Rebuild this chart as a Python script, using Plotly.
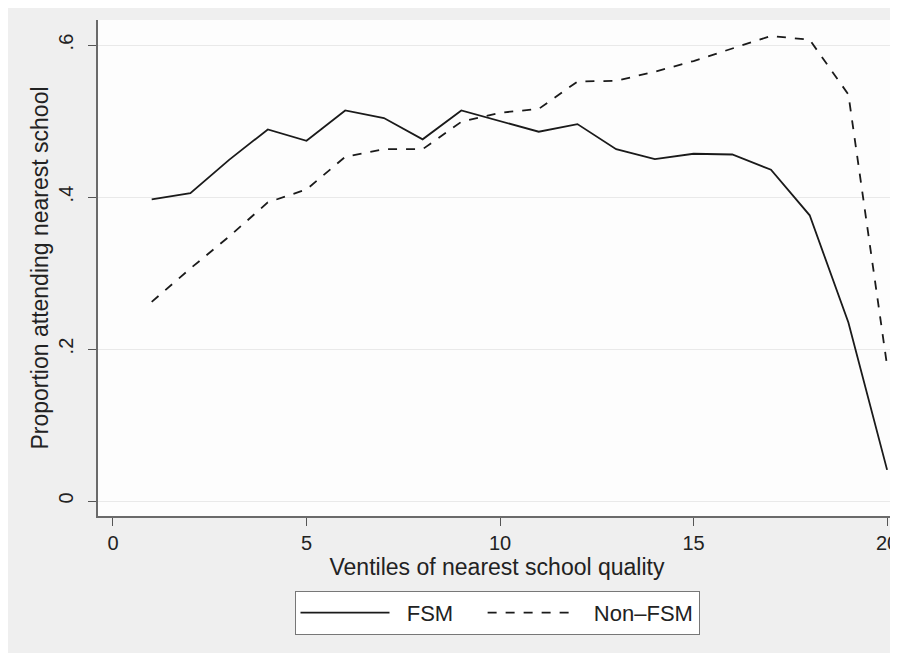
import plotly.graph_objects as go

ventiles = list(range(1, 21))
fsm = [0.397, 0.405, 0.449, 0.489, 0.474, 0.514, 0.504, 0.476, 0.514, 0.500,
       0.486, 0.496, 0.463, 0.450, 0.457, 0.456, 0.436, 0.376, 0.235, 0.041]
non_fsm = [0.262, 0.306, 0.348, 0.393, 0.410, 0.453, 0.463, 0.463, 0.499, 0.511,
           0.516, 0.552, 0.553, 0.565, 0.579, 0.595, 0.612, 0.607, 0.535, 0.178]
y_ticks = [0, 0.2, 0.4, 0.6]
y_tick_labels = ["0", ".2", ".4", ".6"]
x_ticks = [0, 5, 10, 15, 20]
series_names = ["FSM", "Non–FSM"]

FONT = "Liberation Sans, Arial, sans-serif"
LINE = "#1a1a1a"
NB = "\u00a0"

fig = go.Figure()
fig.add_trace(go.Scatter(x=ventiles, y=fsm, mode="lines",
                         name=NB * 2 + series_names[0] + NB * 4,
                         line=dict(color=LINE, width=1.8)))
fig.add_trace(go.Scatter(x=ventiles, y=non_fsm, mode="lines",
                         name=NB * 2 + series_names[1],
                         line=dict(color=LINE, width=1.8, dash="dash")))

fig.update_layout(
    width=890, height=645,
    margin=dict(l=90, r=0, t=12, b=137),
    paper_bgcolor="#efefef",
    plot_bgcolor="#fdfdfd",
    font=dict(family=FONT, size=19.5, color="#222"),
    showlegend=True,
    legend=dict(orientation="h", x=0.5, xanchor="center", y=-0.151, yanchor="top",
                bgcolor="#ffffff", bordercolor="#777", borderwidth=1,
                itemwidth=89, font=dict(size=22, color="#222")),
    xaxis=dict(range=[-0.387, 20.23], tickvals=x_ticks, ticks="outside", ticklen=8,
               tickcolor="#555", showline=True, linecolor="#6a6a6a", linewidth=2,
               showgrid=False, zeroline=False, tickfont=dict(size=20),
               ticklabeloverflow="allow",
               title=dict(text="Ventiles of nearest school quality", standoff=4)),
    yaxis=dict(range=[-0.0197, 0.633], tickvals=y_ticks, ticktext=y_tick_labels,
               tickangle=-90, ticks="outside", ticklen=8, tickcolor="#555",
               ticklabelstandoff=7, tickfont=dict(size=20),
               showline=True, linecolor="#6a6a6a", linewidth=2,
               showgrid=True, gridcolor="#e9e9e9", gridwidth=1, zeroline=False,
               title=dict(text="Proportion attending nearest school", standoff=0)),
)

fig.write_html("out.html")
